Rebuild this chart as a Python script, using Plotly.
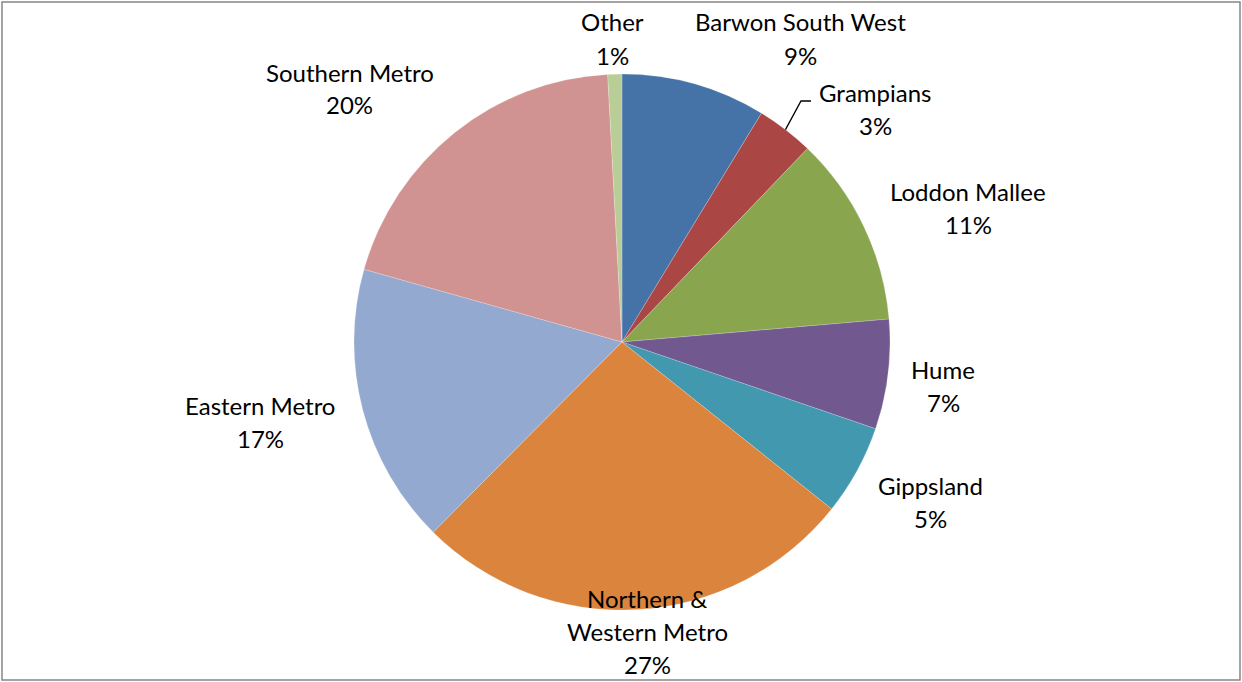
import math
import plotly.graph_objects as go

# Share of total by region (percent), clockwise from 12 o'clock
regions = ["Barwon South West", "Grampians", "Loddon Mallee", "Hume", "Gippsland",
           "Northern &<br>Western Metro", "Eastern Metro", "Southern Metro", "Other"]
shares = [8.7, 3.45, 11.45, 6.6, 5.45, 26.7, 16.9, 19.75, 0.85]
colors = ["#4572A7", "#AA4643", "#89A54E", "#71588F", "#4198AF",
          "#DB843D", "#93A9CF", "#D19392", "#B9CD96"]

W, H = 1242, 682
CX, CY, R = 622, 342, 268

# Label block placement (pixel centre x, pixel centre y of first line)
label_xy = [(800, 22), (875, 92), (968, 192), (943, 369), (930, 485),
            (647, 598), (260, 405), (350, 72), (612, 22)]
LINE_H = 33
FONT = dict(family="Lato, Carlito, Calibri, sans-serif", size=24, color="#000000")

fig = go.Figure(go.Pie(
    values=shares,
    labels=[r.replace("<br>", " ") for r in regions],
    marker=dict(colors=colors, line=dict(color="rgba(255,255,255,0.5)", width=0.4)),
    sort=False,
    direction="clockwise",
    rotation=0,
    textinfo="none",
    hoverinfo="label+percent",
    domain=dict(x=[(CX - R) / W, (CX + R) / W], y=[1 - (CY + R) / H, 1 - (CY - R) / H]),
))

total = sum(shares)
annotations = []
for name, v, (lx, ly) in zip(regions, shares, label_xy):
    lines = name.split("<br>") + [f"{v / total * 100:.0f}%"]
    for i, t in enumerate(lines):
        annotations.append(dict(
            x=lx / W, y=1 - (ly + i * LINE_H) / H, xref="paper", yref="paper",
            text=t, showarrow=False, font=FONT, xanchor="center", yanchor="middle",
        ))

# Leader line for the narrow Grampians slice
cum = shares[0] + shares[1] / 2
ang = math.radians(cum / total * 360)
sx, sy = CX + R * math.sin(ang), CY - R * math.cos(ang)
px = lambda x: x / W
py = lambda y: 1 - y / H
shapes = [
    dict(type="path", xref="paper", yref="paper",
         path=f"M {px(sx)} {py(sy)} L {px(801)} {py(101)} L {px(811)} {py(101)}",
         line=dict(color="#000000", width=1.3)),
    # chart border
    dict(type="rect", xref="paper", yref="paper",
         x0=px(2), x1=px(1240), y0=py(680), y1=py(2),
         line=dict(color="#868686", width=1.5)),
]

fig.update_layout(
    width=W, height=H,
    margin=dict(l=0, r=0, t=0, b=0),
    paper_bgcolor="#FFFFFF", plot_bgcolor="#FFFFFF",
    showlegend=False,
    annotations=annotations,
    shapes=shapes,
)

fig.write_html("out.html")
